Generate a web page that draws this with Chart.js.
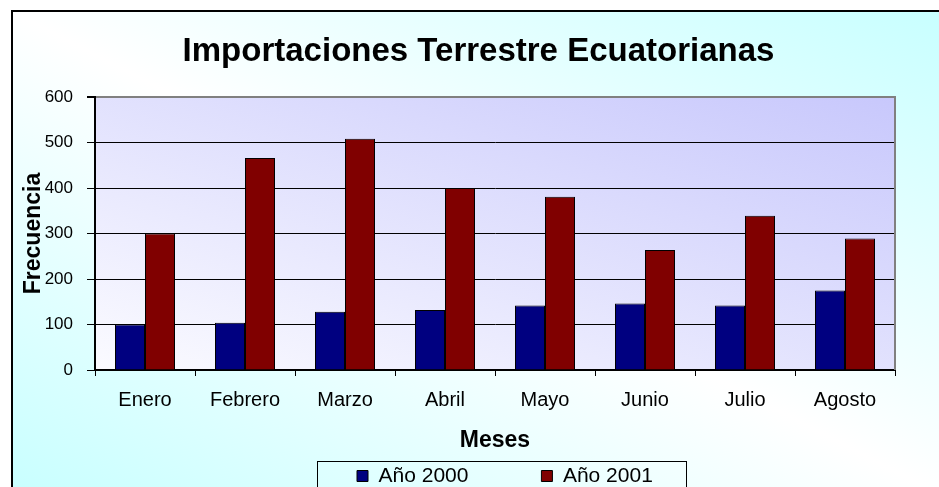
<!DOCTYPE html>
<html>
<head>
<meta charset="utf-8">
<script src="https://cdn.jsdelivr.net/npm/chart.js@4/dist/chart.umd.min.js"></script>
<style>
    html, body { margin: 0; padding: 0; background: #fff; overflow: hidden; }
    body { width: 939px; height: 487px; position: relative; }
    .marco {
        position: absolute; left: 11px; top: 10px; width: 960px; height: 500px;
        border-top: 2px solid #000; border-left: 2px solid #000;
        background: linear-gradient(to top right, #c6ffff 0%, #ffffff 50%, #c6ffff 100%);
    }
    canvas { position: absolute; left: 0; top: 0; }
</style>
</head>
<body>
<div class="marco"></div>
<canvas id="grafico" width="939" height="489"></canvas>
<script>
const meses = ['Enero', 'Febrero', 'Marzo', 'Abril', 'Mayo', 'Junio', 'Julio', 'Agosto'];
const anio2000 = [100, 104, 128, 132, 142, 146, 142, 175];
const anio2001 = [300, 466, 508, 400, 381, 264, 339, 289];
const yTicks = [0, 100, 200, 300, 400, 500, 600];

Chart.defaults.font.family = "'Liberation Sans', Arial, sans-serif";
Chart.defaults.color = '#000';

// fondo degradado del area de trazado + borde gris derecho
const areaPlot = {
    id: 'areaPlot',
    beforeDraw(chart) {
        const {ctx, chartArea: a} = chart;
        const w = a.right - a.left, h = a.bottom - a.top;
        const L = Math.sqrt(w * w + h * h);
        const k = w * h / L;
        const ux = h / L, uy = -w / L;
        const cx = (a.left + a.right) / 2, cy = (a.top + a.bottom) / 2;
        const g = ctx.createLinearGradient(cx - ux * k, cy - uy * k, cx + ux * k, cy + uy * k);
        g.addColorStop(0, '#fbfbff');
        g.addColorStop(1, '#c8c8fc');
        ctx.save();
        ctx.fillStyle = g;
        ctx.fillRect(a.left, a.top, w, h);
        ctx.restore();
    },
    afterDraw(chart) {
        const {ctx, chartArea: a} = chart;
        ctx.save();
        ctx.strokeStyle = '#808080';
        ctx.lineWidth = 2;
        ctx.beginPath();
        ctx.moveTo(a.right, a.top - 1);
        ctx.lineTo(a.right, a.bottom);
        ctx.stroke();

        // caja de la leyenda
        const hb = chart.legend.legendHitBoxes;
        if (hb && hb.length) {
            const x1 = hb[0].left - 40;
            const x2 = hb[hb.length - 1].left + hb[hb.length - 1].width + 33;
            ctx.strokeStyle = '#000';
            ctx.lineWidth = 1;
            ctx.strokeRect(Math.round(x1) + 0.5, 461.5, Math.round(x2 - x1), 40);
        }
        ctx.restore();
    }
};

// mover titulo y leyenda a su sitio
const ajuste = {
    id: 'ajuste',
    afterLayout(chart) {
        const lg = chart.legend;
        const pad = lg.options.labels.padding;
        const x0 = (lg.left + pad + lg.right - lg.lineWidths[0]) / 2;
        const dx = 357 - x0;
        lg.left += dx;
        lg.right += dx;
        lg.top = 465.5 - pad;
        lg.height = 200;
        lg.bottom = lg.top + lg.height;
        const t = chart.titleBlock;
        t.left += 31;
        t.right += 31;
    }
};

const ctx = document.getElementById('grafico').getContext('2d');
new Chart(ctx, {
    type: 'bar',
    data: {
        labels: meses,
        datasets: [{
            label: 'Año 2000',
            data: anio2000,
            backgroundColor: '#000080',
            borderColor: '#000',
            borderWidth: 1
        }, {
            label: 'Año 2001',
            data: anio2001,
            backgroundColor: '#800000',
            borderColor: '#000',
            borderWidth: 1
        }]
    },
    options: {
        responsive: false,
        animation: false,
        layout: { padding: { left: 0, right: 44, top: 0, bottom: 0 } },
        datasets: { bar: { categoryPercentage: 0.6, barPercentage: 1 } },
        plugins: {
            title: {
                display: true,
                text: 'Importaciones Terrestre Ecuatorianas',
                font: { size: 33, weight: 'bold' },
                color: '#000',
                padding: { top: 32.2, bottom: 25.2 }
            },
            legend: {
                position: 'bottom',
                maxHeight: 30,
                labels: {
                    font: { size: 21 },
                    color: '#000',
                    boxWidth: 11,
                    boxHeight: 11,
                    padding: 73
                }
            },
            tooltip: { enabled: false }
        },
        scales: {
            x: {
                afterFit(scale) { scale.height = 89; },
                grid: { drawOnChartArea: false, color: '#000', tickLength: 6, offset: true },
                border: { color: '#000', width: 2 },
                ticks: { font: { size: 20 }, color: '#000', padding: 12 },
                title: {
                    display: true,
                    text: 'Meses',
                    font: { size: 23, weight: 'bold' },
                    color: '#000',
                    padding: { top: 0, bottom: 4.2 }
                }
            },
            y: {
                min: yTicks[0],
                max: yTicks[yTicks.length - 1],
                afterFit(scale) { scale.width = 95; },
                afterBuildTicks(scale) { scale.ticks = yTicks.map(v => ({ value: v })); },
                grid: {
                    color: c => (c.tick && c.tick.value === 600) ? '#808080' : '#000',
                    lineWidth: c => (c.tick && c.tick.value === 600) ? 2 : 1,
                    tickColor: '#000',
                    tickLength: 8
                },
                border: { color: '#000', width: 2 },
                ticks: { font: { size: 17 }, color: '#000', padding: 14 },
                title: {
                    display: true,
                    text: 'Frecuencia',
                    font: { size: 23, weight: 'bold' },
                    color: '#000',
                    padding: { top: 20.2, bottom: 0 }
                }
            }
        }
    },
    plugins: [areaPlot, ajuste]
});
</script>
</body>
</html>
